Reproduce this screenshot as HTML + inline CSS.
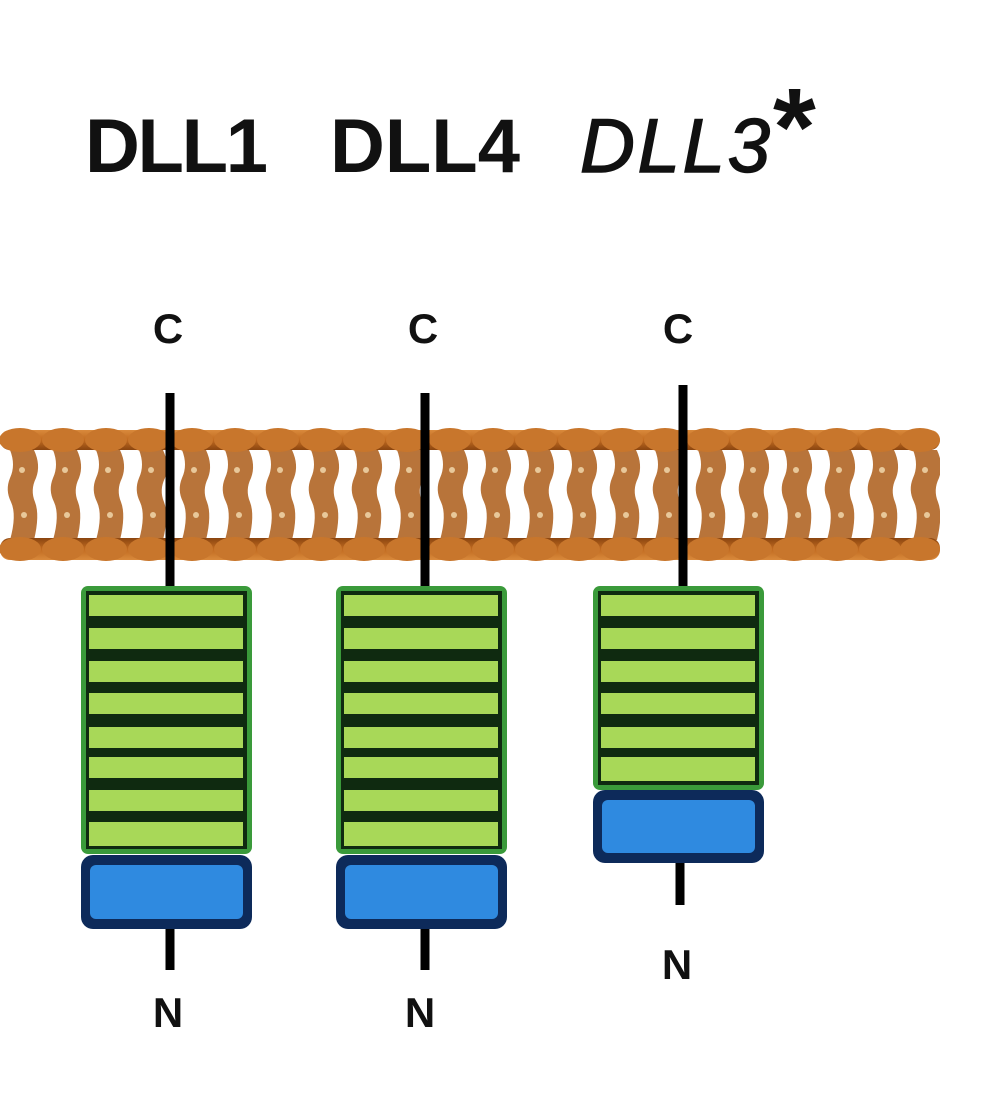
<!DOCTYPE html>
<html><head><style>html,body{margin:0;padding:0;background:#fff}svg{display:block}</style></head><body>
<svg width="1008" height="1108" viewBox="0 0 1008 1108" xmlns="http://www.w3.org/2000/svg">
<defs>
<pattern id="tails" x="0" y="0" width="43" height="200" patternUnits="userSpaceOnUse">
<path d="M10 450 Q16 465 10 478 Q5 490 11 502 Q17 515 10 540 L34 540 Q40 515 35 502 Q30 490 36 478 Q41 465 34 450 Z" fill="#b8743a" transform="translate(0,-400)"/>
<circle cx="22" cy="70" r="3" fill="#e8c89a"/><circle cx="24" cy="115" r="3" fill="#e8c89a"/>
</pattern>
<linearGradient id="head" x1="0" y1="0" x2="0" y2="1"><stop offset="0" stop-color="#d98a3c"/><stop offset="0.5" stop-color="#c06a20"/><stop offset="1" stop-color="#8a4510"/></linearGradient>
<linearGradient id="head2" x1="0" y1="0" x2="0" y2="1"><stop offset="0" stop-color="#8a4510"/><stop offset="0.5" stop-color="#c06a20"/><stop offset="1" stop-color="#d98a3c"/></linearGradient>
</defs>
<text x="85" y="172" font-family="Liberation Sans, sans-serif" font-weight="bold" font-size="76" textLength="183" fill="#111">DLL1</text>
<text x="330" y="172" font-family="Liberation Sans, sans-serif" font-weight="bold" font-size="76" textLength="190" fill="#111">DLL4</text>
<text x="580" y="172" font-family="Liberation Sans, sans-serif" font-style="italic" font-size="76" textLength="190" fill="#111" stroke="#111" stroke-width="1.5">DLL3</text>
<text x="773" y="165" font-family="Liberation Sans, sans-serif" font-weight="bold" font-size="110" fill="#111">*</text>
<!-- membrane -->
<rect x="0" y="450" width="940" height="100" fill="url(#tails)"/>
<rect x="0" y="430" width="940" height="20" rx="10" fill="url(#head)"/>
<rect x="0" y="538" width="940" height="22" rx="10" fill="url(#head2)"/>
<g fill="#c8762c">
<ellipse cx="20" cy="440" rx="21" ry="12"/><ellipse cx="63" cy="440" rx="21" ry="12"/><ellipse cx="106" cy="440" rx="21" ry="12"/><ellipse cx="149" cy="440" rx="21" ry="12"/><ellipse cx="192" cy="440" rx="21" ry="12"/><ellipse cx="235" cy="440" rx="21" ry="12"/><ellipse cx="278" cy="440" rx="21" ry="12"/><ellipse cx="321" cy="440" rx="21" ry="12"/><ellipse cx="364" cy="440" rx="21" ry="12"/><ellipse cx="407" cy="440" rx="21" ry="12"/><ellipse cx="450" cy="440" rx="21" ry="12"/><ellipse cx="493" cy="440" rx="21" ry="12"/><ellipse cx="536" cy="440" rx="21" ry="12"/><ellipse cx="579" cy="440" rx="21" ry="12"/><ellipse cx="622" cy="440" rx="21" ry="12"/><ellipse cx="665" cy="440" rx="21" ry="12"/><ellipse cx="708" cy="440" rx="21" ry="12"/><ellipse cx="751" cy="440" rx="21" ry="12"/><ellipse cx="794" cy="440" rx="21" ry="12"/><ellipse cx="837" cy="440" rx="21" ry="12"/><ellipse cx="880" cy="440" rx="21" ry="12"/><ellipse cx="920" cy="440" rx="20" ry="12"/>
<ellipse cx="20" cy="549" rx="21" ry="12"/><ellipse cx="63" cy="549" rx="21" ry="12"/><ellipse cx="106" cy="549" rx="21" ry="12"/><ellipse cx="149" cy="549" rx="21" ry="12"/><ellipse cx="192" cy="549" rx="21" ry="12"/><ellipse cx="235" cy="549" rx="21" ry="12"/><ellipse cx="278" cy="549" rx="21" ry="12"/><ellipse cx="321" cy="549" rx="21" ry="12"/><ellipse cx="364" cy="549" rx="21" ry="12"/><ellipse cx="407" cy="549" rx="21" ry="12"/><ellipse cx="450" cy="549" rx="21" ry="12"/><ellipse cx="493" cy="549" rx="21" ry="12"/><ellipse cx="536" cy="549" rx="21" ry="12"/><ellipse cx="579" cy="549" rx="21" ry="12"/><ellipse cx="622" cy="549" rx="21" ry="12"/><ellipse cx="665" cy="549" rx="21" ry="12"/><ellipse cx="708" cy="549" rx="21" ry="12"/><ellipse cx="751" cy="549" rx="21" ry="12"/><ellipse cx="794" cy="549" rx="21" ry="12"/><ellipse cx="837" cy="549" rx="21" ry="12"/><ellipse cx="880" cy="549" rx="21" ry="12"/><ellipse cx="920" cy="549" rx="20" ry="12"/>
</g>
<!-- stems -->
<g stroke="#000" stroke-width="9">
<line x1="170" y1="393" x2="170" y2="590"/><line x1="425" y1="393" x2="425" y2="590"/><line x1="683" y1="385" x2="683" y2="590"/>
<line x1="170" y1="925" x2="170" y2="970"/><line x1="425" y1="925" x2="425" y2="970"/><line x1="680" y1="858" x2="680" y2="905"/>
</g>
<g font-family="Liberation Sans, sans-serif" font-weight="bold" font-size="42" fill="#111" text-anchor="middle">
<text x="168" y="343">C</text><text x="423" y="343">C</text><text x="678" y="343">C</text>
<text x="168" y="1027">N</text><text x="420" y="1027">N</text><text x="677" y="979">N</text>
</g>
<!-- boxes -->
<rect x="81" y="586" width="171" height="268" rx="7" fill="#3a9a3a"/>
<rect x="86" y="591" width="161" height="258" fill="#0f2a10"/>
<g fill="#a8d858">
<rect x="89" y="595" width="154" height="21"/><rect x="89" y="628" width="154" height="21"/><rect x="89" y="661" width="154" height="21"/><rect x="89" y="693" width="154" height="21"/><rect x="89" y="727" width="154" height="21"/><rect x="89" y="757" width="154" height="21"/><rect x="89" y="790" width="154" height="21"/><rect x="89" y="822" width="154" height="24"/>
</g>
<rect x="81" y="855" width="171" height="74" rx="12" fill="#0d2a5a"/>
<rect x="90" y="865" width="153" height="54" rx="6" fill="#2f8ae0"/>

<rect x="336" y="586" width="171" height="268" rx="7" fill="#3a9a3a"/>
<rect x="341" y="591" width="161" height="258" fill="#0f2a10"/>
<g fill="#a8d858">
<rect x="344" y="595" width="154" height="21"/><rect x="344" y="628" width="154" height="21"/><rect x="344" y="661" width="154" height="21"/><rect x="344" y="693" width="154" height="21"/><rect x="344" y="727" width="154" height="21"/><rect x="344" y="757" width="154" height="21"/><rect x="344" y="790" width="154" height="21"/><rect x="344" y="822" width="154" height="24"/>
</g>
<rect x="336" y="855" width="171" height="74" rx="12" fill="#0d2a5a"/>
<rect x="345" y="865" width="153" height="54" rx="6" fill="#2f8ae0"/>

<rect x="593" y="586" width="171" height="204" rx="7" fill="#3a9a3a"/>
<rect x="598" y="591" width="161" height="194" fill="#0f2a10"/>
<g fill="#a8d858">
<rect x="601" y="595" width="154" height="21"/><rect x="601" y="628" width="154" height="21"/><rect x="601" y="661" width="154" height="21"/><rect x="601" y="693" width="154" height="21"/><rect x="601" y="727" width="154" height="21"/><rect x="601" y="757" width="154" height="24"/>
</g>
<rect x="593" y="790" width="171" height="73" rx="12" fill="#0d2a5a"/>
<rect x="602" y="800" width="153" height="53" rx="6" fill="#2f8ae0"/>
</svg>
</body></html>
